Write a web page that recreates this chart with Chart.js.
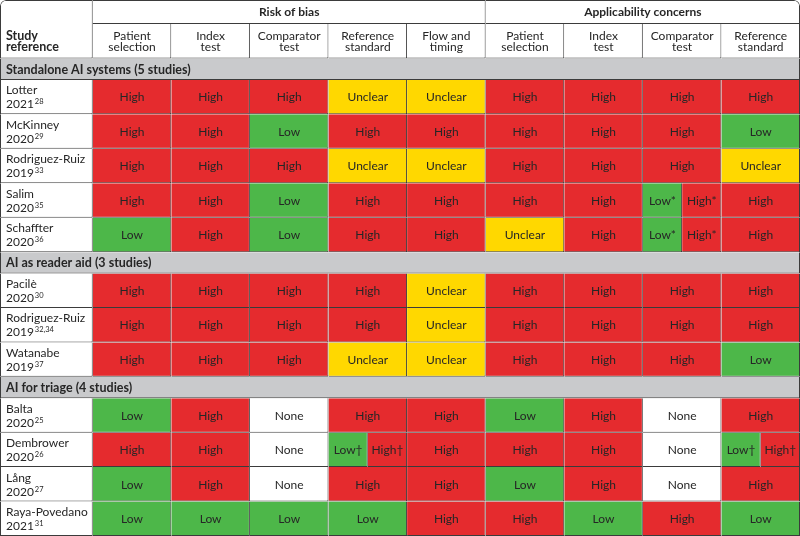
<!DOCTYPE html>
<html>
<head>
<meta charset="utf-8">
<script src="https://cdn.jsdelivr.net/npm/chart.js@4"></script>
<style>
  html, body { margin: 0; padding: 0; background: #fff; }
</style>
</head>
<body>
<canvas id="chart" width="800" height="536"></canvas>
<script>
// Table content
const domains = ['Risk of bias', 'Applicability concerns'];
const domainSpans = [5, 4];
const columns = [
    ['Patient', 'selection'], ['Index', 'test'], ['Comparator', 'test'], ['Reference', 'standard'], ['Flow and', 'timing'],
    ['Patient', 'selection'], ['Index', 'test'], ['Comparator', 'test'], ['Reference', 'standard']
];
const groups = ['Standalone AI systems (5 studies)', 'AI as reader aid (3 studies)', 'AI for triage (4 studies)'];
const groupSizes = [5, 3, 4];
const studies = ['Lotter', 'McKinney', 'Rodriguez-Ruiz', 'Salim', 'Schaffter', 'Pacilè', 'Rodriguez-Ruiz', 'Watanabe',
    'Balta', 'Dembrower', 'Lång', 'Raya-Povedano'];
const years = ['2021', '2020', '2019', '2020', '2020', '2020', '2019', '2019', '2020', '2020', '2020', '2021'];
const refs = ['28', '29', '33', '35', '36', '30', '32,34', '37', '25', '26', '27', '31'];
// "a|b" = cell split in two halves
const ratings = [
    ['High', 'High', 'High', 'Unclear', 'Unclear', 'High', 'High', 'High', 'High'],
    ['High', 'High', 'Low', 'High', 'High', 'High', 'High', 'High', 'Low'],
    ['High', 'High', 'High', 'Unclear', 'Unclear', 'High', 'High', 'High', 'Unclear'],
    ['High', 'High', 'Low', 'High', 'High', 'High', 'High', 'Low*|High*', 'High'],
    ['Low', 'High', 'Low', 'High', 'High', 'Unclear', 'High', 'Low*|High*', 'High'],
    ['High', 'High', 'High', 'High', 'Unclear', 'High', 'High', 'High', 'High'],
    ['High', 'High', 'High', 'High', 'Unclear', 'High', 'High', 'High', 'High'],
    ['High', 'High', 'High', 'Unclear', 'Unclear', 'High', 'High', 'High', 'Low'],
    ['Low', 'High', 'None', 'High', 'High', 'Low', 'High', 'None', 'High'],
    ['High', 'High', 'None', 'Low†|High†', 'High', 'High', 'High', 'None', 'Low†|High†'],
    ['Low', 'High', 'None', 'High', 'High', 'Low', 'High', 'None', 'High'],
    ['Low', 'Low', 'Low', 'Low', 'High', 'High', 'Low', 'High', 'Low']
];

const ratingColors = { High: '#e52b2e', Low: '#4db749', Unclear: '#ffd800', None: '#ffffff' };
const GRAY = '#c9cacc';
const LINE = '#3b3b3b';
const TEXT = '#262626';
const FONT = 'Lato';

// layout, in column / row units
const STUDY_W = 1.18;
const HEAD1_H = 0.7;
const HEAD2_H = 1;
const GROUP_H = 0.62;
const ROW_H = 1;

let yPos = HEAD1_H + HEAD2_H;
const groupCenters = [];
const rowCenters = [];
groups.forEach((g, gi) => {
    groupCenters.push(yPos + GROUP_H / 2);
    yPos += GROUP_H;
    for (let k = 0; k < groupSizes[gi]; k++) {
        rowCenters.push(yPos + ROW_H / 2);
        yPos += ROW_H;
    }
});
const Y_MAX = yPos;
const X_MAX = STUDY_W + columns.length;

function edges(t, r, b, l) {
    return { top: t, right: r, bottom: b, left: l };
}

// header row 1
const head1Data = [{ x: [0, STUDY_W], y: HEAD1_H / 2 }];
let xPos = STUDY_W;
domainSpans.forEach(span => {
    head1Data.push({ x: [xPos, xPos + span], y: HEAD1_H / 2 });
    xPos += span;
});

// header row 2
const head2Y = HEAD1_H + HEAD2_H / 2;
const head2Data = [{ x: [0, STUDY_W], y: head2Y }].concat(columns.map((c, i) => ({ x: [STUDY_W + i, STUDY_W + i + 1], y: head2Y })));

// rating cells
const cellData = [];
const cellColors = [];
const cellTexts = [];
ratings.forEach((row, r) => {
    row.forEach((val, c) => {
        const parts = val.split('|');
        const w = 1 / parts.length;
        parts.forEach((p, k) => {
            const x0 = STUDY_W + c + k * w;
            cellData.push({ x: [x0, x0 + w], y: rowCenters[r] });
            cellColors.push(ratingColors[p.replace(/[*†]/g, '')]);
            cellTexts.push(p);
        });
    });
});

const common = {
    borderColor: LINE,
    borderSkipped: false,
    inflateAmount: 0,
    grouped: false,
    categoryPercentage: 1
};

const datasets = [
    Object.assign({}, common, {
        yAxisID: 'yg',
        barPercentage: HEAD1_H,
        data: head1Data,
        backgroundColor: '#ffffff',
        borderWidth: [edges(1, 1, 0, 1), edges(1, 1, 1, 0), edges(1, 1, 1, 0)],
        borderRadius: [{ topLeft: 6 }, 0, { topRight: 6 }],
        texts: [''].concat(domains),
        textFont: 'bold 12px ' + FONT,
        textAlign: 'center'
    }),
    Object.assign({}, common, {
        yAxisID: 'y',
        barPercentage: HEAD2_H,
        data: head2Data,
        backgroundColor: '#ffffff',
        borderWidth: [edges(0, 1, 1, 1)].concat(columns.map(() => edges(0, 1, 1, 0))),
        texts: [['Study', 'reference']].concat(columns),
        textFonts: ['bold 12.5px ' + FONT].concat(columns.map(() => '12px ' + FONT)),
        textAligns: ['left'].concat(columns.map(() => 'center')),
        lineHeight: 11
    }),
    Object.assign({}, common, {
        yAxisID: 'yg',
        barPercentage: GROUP_H,
        data: groupCenters.map(y => ({ x: [0, X_MAX], y: y })),
        backgroundColor: GRAY,
        borderWidth: edges(0, 1, 1, 1),
        texts: groups,
        textFont: 'bold 12.5px ' + FONT,
        textAlign: 'left'
    }),
    Object.assign({}, common, {
        yAxisID: 'y',
        barPercentage: ROW_H,
        data: rowCenters.map(y => ({ x: [0, STUDY_W], y: y })),
        backgroundColor: '#ffffff',
        borderWidth: edges(0, 1, 1, 1),
        texts: studies.map((s, i) => [s, years[i]]),
        sups: refs,
        textFont: '12px ' + FONT,
        textAlign: 'left',
        lineHeight: 14
    }),
    Object.assign({}, common, {
        yAxisID: 'y',
        barPercentage: ROW_H,
        data: cellData,
        backgroundColor: cellColors,
        borderWidth: edges(0, 1, 1, 0),
        texts: cellTexts,
        textFont: '12px ' + FONT,
        textAlign: 'center'
    })
];

// writes the table texts inside the bars
const tableText = {
    id: 'tableText',
    afterDatasetsDraw(chart) {
        const ctx = chart.ctx;
        ctx.save();
        ctx.fillStyle = TEXT;
        ctx.textBaseline = 'alphabetic';
        chart.data.datasets.forEach((ds, i) => {
            const meta = chart.getDatasetMeta(i);
            meta.data.forEach((el, j) => {
                const t = ds.texts[j];
                if (!t) return;
                const lines = Array.isArray(t) ? t : [t];
                const p = el.getProps(['x', 'base', 'y'], true);
                const left = Math.min(p.x, p.base);
                const right = Math.max(p.x, p.base);
                const font = ds.textFonts ? ds.textFonts[j] : ds.textFont;
                const align = ds.textAligns ? ds.textAligns[j] : ds.textAlign;
                const lh = ds.lineHeight || 14;
                ctx.font = font;
                ctx.textAlign = align;
                const tx = align === 'left' ? left + 6 : (left + right) / 2;
                let ty = p.y - (lines.length - 1) * lh / 2 + 4.3;
                lines.forEach((line, k) => {
                    ctx.fillText(line, tx, ty);
                    if (ds.sups && k === lines.length - 1) {
                        const w = ctx.measureText(line).width;
                        ctx.save();
                        ctx.font = '7.5px ' + FONT;
                        ctx.textAlign = 'left';
                        ctx.fillText(ds.sups[j], tx + w + 1, ty - 4);
                        ctx.restore();
                    }
                    ty += lh;
                });
            });
        });
        ctx.restore();
    }
};

// one tick step of a single unit, so bar thickness is measured in row units
function unitTicks(axis) {
    axis.ticks = [{ value: 0 }, { value: 1 }];
}

function draw() {
    new Chart(document.getElementById('chart'), {
        type: 'bar',
        data: { datasets: datasets },
        options: {
            indexAxis: 'y',
            responsive: false,
            animation: false,
            layout: { padding: 0 },
            scales: {
                x: { type: 'linear', min: 0, max: X_MAX, display: false },
                y: { type: 'linear', min: 0, max: Y_MAX, reverse: true, offset: false, display: false, afterBuildTicks: unitTicks },
                yg: { axis: 'y', type: 'linear', min: 0, max: Y_MAX, reverse: true, offset: false, display: false, afterBuildTicks: unitTicks }
            },
            plugins: {
                legend: { display: false },
                tooltip: { enabled: false }
            }
        },
        plugins: [tableText]
    });
}

Promise.all([
    document.fonts.load('12px ' + FONT),
    document.fonts.load('bold 12px ' + FONT)
]).finally(draw);
</script>
</body>
</html>
